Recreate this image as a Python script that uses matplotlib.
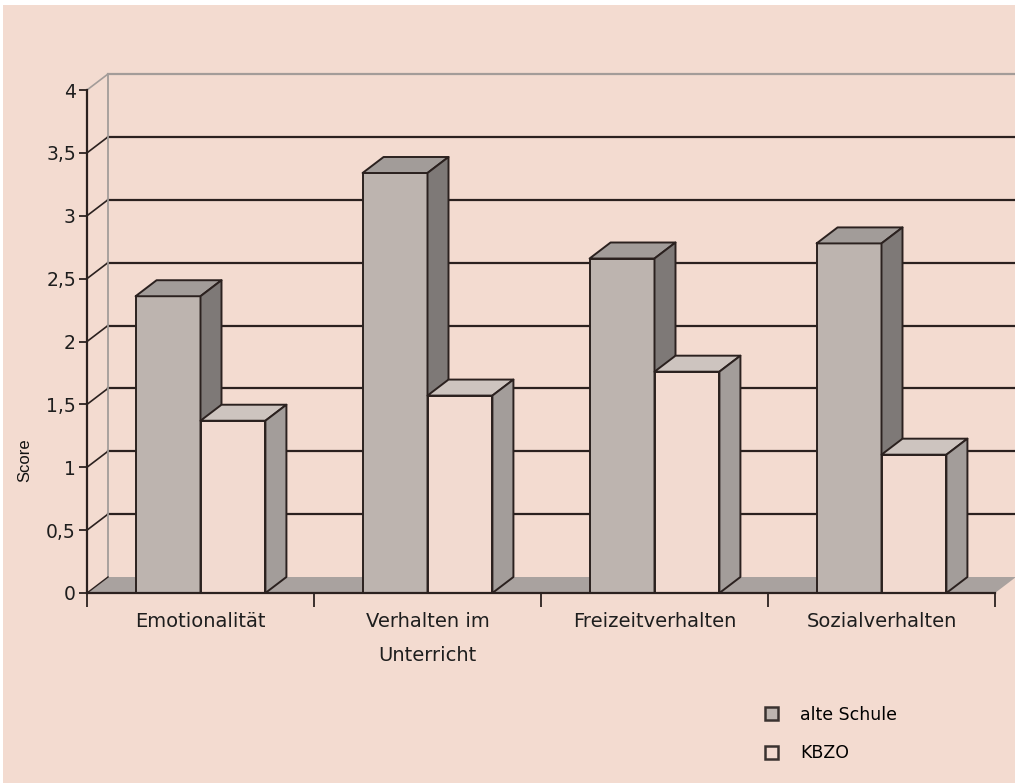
import matplotlib
matplotlib.use("Agg")
import matplotlib.pyplot as plt
from matplotlib.patches import Polygon, Patch, Rectangle

categories = ["Emotionalität", "Verhalten im\nUnterricht", "Freizeitverhalten", "Sozialverhalten"]
alte_schule = [2.36, 3.34, 2.66, 2.78]
kbzo = [1.37, 1.57, 1.76, 1.10]
series_names = ["alte Schule", "KBZO"]
yticks = [0, 0.5, 1, 1.5, 2, 2.5, 3, 3.5, 4]
ytick_labels = ["0", "0,5", "1", "1,5", "2", "2,5", "3", "3,5", "4"]

BG = "#F3DBD0"
DARK = "#2B211F"
WALL_EDGE = "#A39C99"
FLOOR = "#A9A29F"
colors_front = ["#BDB4AF", "#F2DAD0"]
colors_top = ["#A29C99", "#CDC4BF"]
colors_side = ["#7E7977", "#A39D9A"]

W, H = 1015, 783
fig = plt.figure(figsize=(W / 100, H / 100), dpi=100, facecolor="white")
fig.patches.append(Rectangle((3 / W, 0), 1, 1 - 5 / H, transform=fig.transFigure,
                             facecolor=BG, edgecolor="none", zorder=-10))

# front axes plane: x from px 87 to 995, y0 at px 593, y4 at px 90
ax = fig.add_axes([87 / W, (H - 593) / H, (995 - 87) / W, (593 - 90) / H])
ax.set_xlim(0, 4)
ax.set_ylim(0, 4)
ax.patch.set_visible(False)

dx = 21 / 227.0
dy = 16 / 125.75
n = len(categories)

# floor
ax.add_patch(Polygon([(0, 0), (n, 0), (n + dx, dy), (dx, dy)], closed=True,
                     facecolor=FLOOR, edgecolor="none", zorder=1, clip_on=False))
# back wall gridlines and side wall diagonals
for yv in yticks[1:]:
    col = WALL_EDGE if yv == 4 else DARK
    ax.plot([dx, n + dx], [yv + dy, yv + dy], color=col, lw=1.6, zorder=2, clip_on=False)
    ax.plot([0, dx], [yv, yv + dy], color=col, lw=1.2, zorder=2, clip_on=False)
ax.plot([dx, dx], [dy, 4 + dy], color=WALL_EDGE, lw=1.3, zorder=2, clip_on=False)
ax.plot([0, dx], [0, dy], color=DARK, lw=1.0, zorder=2, clip_on=False)

# bars
w = 0.286
for s, vals in enumerate([alte_schule, kbzo]):
    lefts = [i + 0.5 - w + s * w for i in range(n)]
    z = 3 + s
    ax.bar(lefts, vals, width=w, align="edge", color=colors_front[s], edgecolor=DARK,
           linewidth=1.4, zorder=z, clip_on=False)
    for x0, v in zip(lefts, vals):
        top = [(x0, v), (x0 + w, v), (x0 + w + dx, v + dy), (x0 + dx, v + dy)]
        side = [(x0 + w, 0), (x0 + w + dx, dy), (x0 + w + dx, v + dy), (x0 + w, v)]
        ax.add_patch(Polygon(top, closed=True, facecolor=colors_top[s], edgecolor=DARK,
                             lw=1.4, zorder=z, clip_on=False, joinstyle="round"))
        ax.add_patch(Polygon(side, closed=True, facecolor=colors_side[s], edgecolor=DARK,
                             lw=1.4, zorder=z, clip_on=False, joinstyle="round"))

# axes styling
for sp in ["top", "right"]:
    ax.spines[sp].set_visible(False)
ax.spines["left"].set_color(DARK)
ax.spines["bottom"].set_color(DARK)
ax.spines["left"].set_linewidth(1.6)
ax.spines["bottom"].set_linewidth(1.6)
ax.spines["bottom"].set_zorder(6)
ax.set_yticks(yticks)
ax.set_yticklabels(ytick_labels, fontsize=13.5, color="#1E1E1E", family="DejaVu Sans")
ax.tick_params(axis="y", direction="out", length=6, width=1.3, color=DARK, pad=2)
ax.set_xticks(range(n + 1))
ax.set_xticks([i + 0.5 for i in range(n)], minor=True)
ax.set_xticklabels([""] * (n + 1))
ax.set_xticklabels(categories, minor=True, fontsize=14, color="#1E1E1E",
                   family="DejaVu Sans", linespacing=1.95)
ax.tick_params(axis="x", which="major", direction="out", length=10, width=1.3, color=DARK)
ax.tick_params(axis="x", which="minor", length=0, pad=14)

fig.text(25 / W, 1 - 460 / H, "Score", rotation=90, fontsize=12, family="Liberation Sans",
         ha="center", va="center", color="#111111")

handles = [Patch(facecolor=colors_front[0], edgecolor="#3A3230", lw=1.8),
           Patch(facecolor=colors_front[1], edgecolor="#3A3230", lw=1.8)]
fig.legend(handles, series_names, loc="upper left", bbox_to_anchor=(749 / W, 1 - 690 / H),
           frameon=False, handlelength=0.75, handleheight=0.75,
           handletextpad=1.3, labelspacing=1.2, prop={"family": "DejaVu Sans", "size": 12.5})

fig.savefig("out.png", dpi=100, facecolor="white")
